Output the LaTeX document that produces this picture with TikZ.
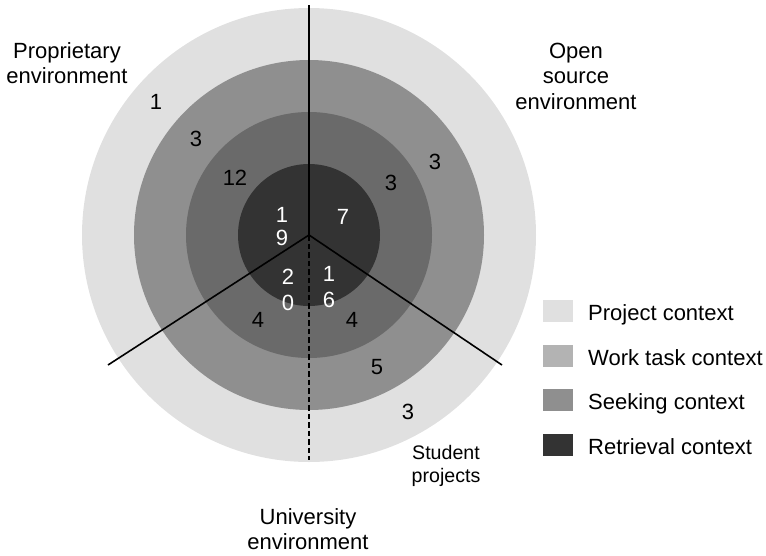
\documentclass[tikz,border=0pt]{standalone}
\usepackage{fontspec}
\setmainfont{Liberation Sans}
\definecolor{cproj}{HTML}{E0E0E0}
\definecolor{cwork}{HTML}{8F8F8F}
\definecolor{cseek}{HTML}{6A6A6A}
\definecolor{cret}{HTML}{333333}
\definecolor{kwork}{HTML}{B3B3B3}
\begin{document}
\begin{tikzpicture}[x=1pt,y=-1pt,
  lbl/.style={font=\fontsize{22}{25.5}\selectfont, align=center, inner sep=0pt},
  small/.style={font=\fontsize{19.6}{23}\selectfont, align=center, inner sep=0pt},
  num/.style={font=\fontsize{22}{25}\selectfont, inner sep=0pt},
  wnum/.style={num, text=white},
  divider/.style={line width=1.6pt, black},
  keybox/.style={minimum width=30pt, minimum height=22pt, inner sep=0pt, anchor=south west},
  keytext/.style={font=\fontsize{22}{25}\selectfont, inner sep=0pt, anchor=base west}]
\useasboundingbox (0,0) rectangle (766,555);
\coordinate (c) at (309,235);
\fill[cproj] (c) circle (227pt);
\fill[cwork] (c) circle (175pt);
\fill[cseek] (c) circle (123pt);
\fill[cret] (c) circle (71pt);
\coordinate (top) at (309,5);
\coordinate (ll) at (108,365);
\coordinate (lr) at (502,365);
\coordinate (bot) at (309,460);
\draw[divider] (top) -- (c);
\draw[divider] (c) -- (ll);
\draw[divider] (c) -- (lr);
\draw[divider, dash pattern=on 5.5pt off 3pt] (c) -- (bot);
% labels
\node[lbl] (prop) at (67,63) {Proprietary\\environment};
\node[lbl] (open) at (576,76) {Open\\source\\environment};
\node[lbl] (univ) at (308,529) {University\\environment};
\node[small] (stud) at (446,466) {Student\\projects};
% numbers
\node[num] (p1) at (156,102) {1};
\node[num] (p2) at (196,139) {3};
\node[num] (p3) at (235,178) {12};
\node[wnum] (p4a) at (282,215) {1};
\node[wnum] (p4b) at (282,238) {9};
\node[wnum] (o4) at (343,217) {7};
\node[num] (o3) at (391,183) {3};
\node[num] (o2) at (435,162) {3};
\node[wnum] (u4a) at (288,277) {2};
\node[wnum] (u4b) at (288,303) {0};
\node[wnum] (s4a) at (329,274) {1};
\node[wnum] (s4b) at (329,300) {6};
\node[num] (u3) at (258,320) {4};
\node[num] (s3) at (352,320) {4};
\node[num] (s2) at (377,367) {5};
\node[num] (s1) at (408,412) {3};
% legend
\node[keybox, fill=cproj] (k1) at (543,322) {};
\node[keybox, fill=kwork] (k2) at (543,367) {};
\node[keybox, fill=cwork] (k3) at (543,411) {};
\node[keybox, fill=cret] (k4) at (543,456) {};
\node[keytext] (t1) at (588,320) {Project context};
\node[keytext] (t2) at (588,365) {Work task context};
\node[keytext] (t3) at (588,409) {Seeking context};
\node[keytext] (t4) at (588,454) {Retrieval context};
\end{tikzpicture}
\end{document}
